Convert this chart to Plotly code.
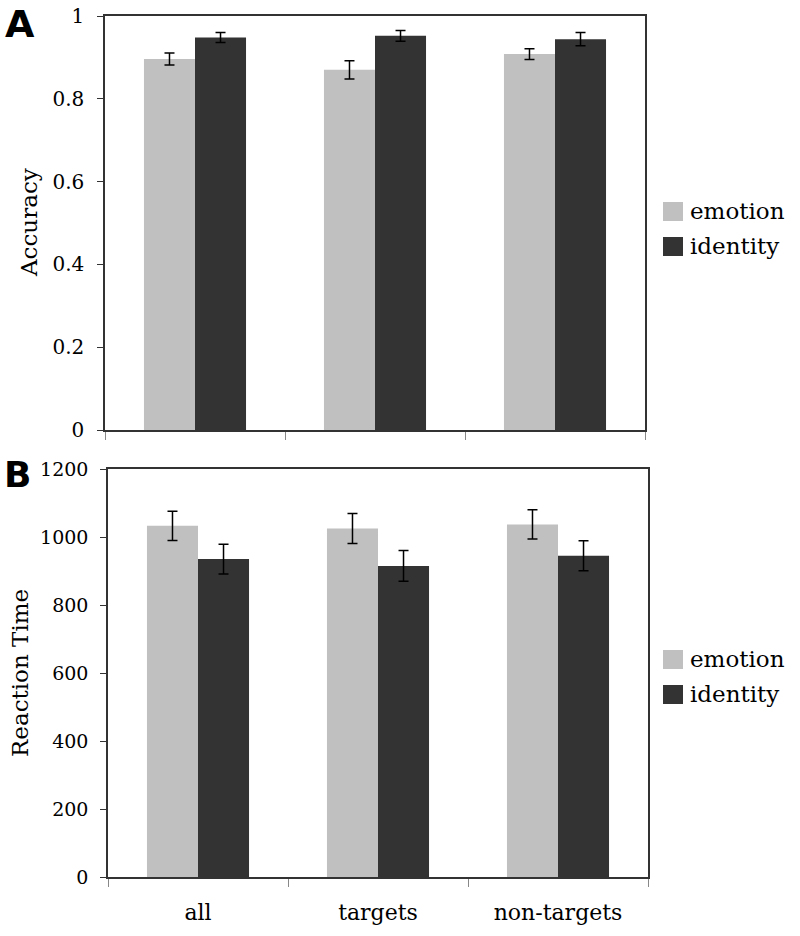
import plotly.graph_objects as go

categories = ["all", "targets", "non-targets"]
series_names = ["emotion", "identity"]
colors = ["#c0c0c0", "#333333"]

acc_emotion = [0.896, 0.870, 0.908]
acc_emotion_err = [0.0145, 0.022, 0.013]
acc_identity = [0.948, 0.952, 0.944]
acc_identity_err = [0.012, 0.013, 0.016]

rt_emotion = [1033, 1025, 1037]
rt_emotion_err = [43, 44, 43]
rt_identity = [935, 915, 945]
rt_identity_err = [44, 45, 44]

acc_ticks = [0, 0.2, 0.4, 0.6, 0.8, 1]
acc_ticktext = ["0", "0.2", "0.4", "0.6", "0.8", "1"]
rt_ticks = [0, 200, 400, 600, 800, 1000, 1200]

W, H = 800, 936
serif = "DejaVu Serif, Georgia, serif"

fig = go.Figure()

acc_vals = [acc_emotion, acc_identity]
acc_errs = [acc_emotion_err, acc_identity_err]
rt_vals = [rt_emotion, rt_identity]
rt_errs = [rt_emotion_err, rt_identity_err]

for i in range(2):
    fig.add_trace(go.Bar(
        x=categories, y=acc_vals[i], name=series_names[i],
        marker=dict(color=colors[i], line=dict(width=0)),
        error_y=dict(type="data", array=acc_errs[i], color="black", thickness=1.5, width=5),
        xaxis="x", yaxis="y", showlegend=False,
    ))
for i in range(2):
    fig.add_trace(go.Bar(
        x=categories, y=rt_vals[i], name=series_names[i],
        marker=dict(color=colors[i], line=dict(width=0)),
        error_y=dict(type="data", array=rt_errs[i], color="black", thickness=1.5, width=5),
        xaxis="x2", yaxis="y2", showlegend=False,
    ))

def px_x(p):
    return p / W

def px_y(p):
    return 1 - p / H

axis_common = dict(showline=True, linecolor="#333333", linewidth=1.5, mirror=True,
                   showgrid=False, zeroline=False, automargin=False)

shapes = []
annotations = [
    dict(text="Accuracy", x=px_x(29), y=px_y(222), xref="paper", yref="paper",
         textangle=-90, showarrow=False, font=dict(size=23, family=serif),
         xanchor="center", yanchor="middle"),
    dict(text="Reaction Time", x=px_x(20), y=px_y(673), xref="paper", yref="paper",
         textangle=-90, showarrow=False, font=dict(size=23, family=serif),
         xanchor="center", yanchor="middle"),
    dict(text="<b>A</b>", x=px_x(20), y=px_y(24), xref="paper", yref="paper",
         showarrow=False, font=dict(size=38, family="DejaVu Sans, sans-serif"),
         xanchor="center", yanchor="middle"),
    dict(text="<b>B</b>", x=px_x(17), y=px_y(474), xref="paper", yref="paper",
         showarrow=False, font=dict(size=36, family="DejaVu Sans, sans-serif"),
         xanchor="center", yanchor="middle"),
]

# custom legends (larger swatches than plotly's default)
legend_tops = [[202, 237], [650, 685]]
for tops in legend_tops:
    for i, name in enumerate(series_names):
        t = tops[i]
        shapes.append(dict(type="rect", xref="paper", yref="paper",
                           x0=px_x(663), x1=px_x(683), y0=px_y(t + 19), y1=px_y(t),
                           fillcolor=colors[i], line=dict(width=0)))
        annotations.append(dict(text=name, x=px_x(688), y=px_y(t + 9), xref="paper", yref="paper",
                                showarrow=False, xanchor="left", yanchor="middle",
                                font=dict(size=23, family=serif)))

fig.update_layout(
    width=W, height=H,
    margin=dict(l=0, r=0, t=0, b=0),
    paper_bgcolor="white", plot_bgcolor="white",
    barmode="group", bargap=0.433, bargroupgap=0,
    showlegend=False,
    font=dict(family=serif, color="black"),
    xaxis=dict(domain=[px_x(105), px_x(645)], anchor="y", type="category",
               tickson="boundaries", ticks="outside", ticklen=8, tickcolor="#888888",
               showticklabels=False, **axis_common),
    yaxis=dict(domain=[px_y(430), px_y(16)], anchor="x", range=[0, 1],
               tickvals=acc_ticks, ticktext=acc_ticktext,
               ticks="outside", ticklen=6, tickcolor="#333333", ticklabelstandoff=9,
               tickfont=dict(size=20, family=serif), **axis_common),
    xaxis2=dict(domain=[px_x(108), px_x(648)], anchor="y2", type="category",
                tickson="boundaries", ticks="outside", ticklen=8, tickcolor="#888888",
                ticklabelstandoff=15,
                tickfont=dict(size=22, family=serif), **axis_common),
    yaxis2=dict(domain=[px_y(877), px_y(469)], anchor="x2", range=[0, 1200],
                tickvals=rt_ticks,
                ticks="outside", ticklen=6, tickcolor="#333333", ticklabelstandoff=8,
                tickfont=dict(size=19, family=serif), **axis_common),
    shapes=shapes,
    annotations=annotations,
)

fig.write_html("out.html", config={"displayModeBar": False},
               post_script="document.body.style.margin='0';")
